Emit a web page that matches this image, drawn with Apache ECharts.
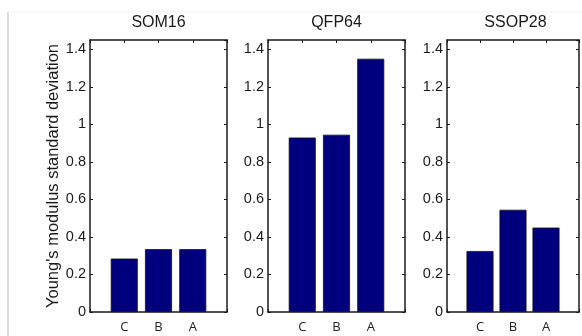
<!DOCTYPE html>
<html>
<head>
<meta charset="utf-8">
<script src="https://cdn.jsdelivr.net/npm/echarts@6/dist/echarts.min.js"></script>
<style>
  html, body { margin: 0; padding: 0; background: #fff; }
  #chart { width: 582px; height: 336px; }
</style>
</head>
<body>
<div id="chart"></div>
<script>
// Package types, one panel each
const panelTitles = ['SOM16', 'QFP64', 'SSOP28'];
// Bar categories, left to right (placed at x = 1, 2, 3)
const categories = ['C', 'B', 'A'];
// Young's modulus standard deviation per category
const som16 = [0.285, 0.335, 0.335];
const qfp64 = [0.93, 0.945, 1.35];
const ssop28 = [0.325, 0.545, 0.45];
const panelValues = [som16, qfp64, ssop28];

const yAxisName = "Young's modulus standard deviation";
const yMax = 1.45;
const yStep = 0.2;

const panelLeft = [90, 268, 447];
const panelWidth = 137;
const panelTop = 40;
const panelHeight = 272;

const ink = '#1a1a1a';
const font = 'Liberation Sans, Arial, sans-serif';

const grids = [], xAxes = [], yAxes = [], series = [], titles = [];

panelValues.forEach((vals, i) => {
  grids.push({ left: panelLeft[i], top: panelTop, width: panelWidth, height: panelHeight });

  // bottom axis with category labels
  xAxes.push({
    type: 'value', gridIndex: i, position: 'bottom', min: 0, max: categories.length + 1, interval: 1,
    axisLine: { show: true, onZero: false, lineStyle: { color: ink, width: 1.5 } },
    axisTick: { show: true, inside: true, length: 3, lineStyle: { color: ink } },
    axisLabel: {
      show: true, margin: 9, fontSize: 13, color: '#222', fontFamily: 'Open Sans, sans-serif',
      formatter: v => categories[v - 1] || ''
    },
    splitLine: { show: false }
  });
  // top box edge
  xAxes.push({
    type: 'value', gridIndex: i, position: 'top', min: 0, max: categories.length + 1, interval: 1,
    axisLine: { show: true, onZero: false, lineStyle: { color: ink, width: 1.5 } },
    axisTick: { show: true, inside: true, length: 3, lineStyle: { color: ink } },
    axisLabel: { show: false },
    splitLine: { show: false }
  });
  // left value axis
  yAxes.push({
    type: 'value', gridIndex: i, position: 'left', min: 0, max: yMax, interval: yStep,
    name: i === 0 ? yAxisName : '',
    nameLocation: 'middle', nameGap: 26, nameRotate: 90,
    nameTextStyle: { fontSize: 16.5, color: ink, fontFamily: font },
    axisLine: { show: true, onZero: false, lineStyle: { color: ink, width: 1.5 } },
    axisTick: { show: true, inside: true, length: 3, lineStyle: { color: ink } },
    axisLabel: {
      show: true, margin: 4, fontSize: 14.5, color: '#1a1a1a', fontFamily: font,
      showMaxLabel: false,
      formatter: v => String(Math.round(v * 10) / 10)
    },
    splitLine: { show: false }
  });
  // right box edge
  yAxes.push({
    type: 'value', gridIndex: i, position: 'right', min: 0, max: yMax, interval: yStep,
    axisLine: { show: true, onZero: false, lineStyle: { color: ink, width: 1.5 } },
    axisTick: { show: true, inside: true, length: 3, lineStyle: { color: ink } },
    axisLabel: { show: false },
    splitLine: { show: false }
  });

  series.push({
    type: 'bar',
    xAxisIndex: i * 2, yAxisIndex: i * 2,
    barWidth: 27,
    data: vals.map((v, k) => [k + 1, v]),
    itemStyle: { color: '#00007f', borderColor: '#111', borderWidth: 0.8 },
    silent: true
  });

  titles.push({
    text: panelTitles[i],
    left: panelLeft[i] + panelWidth / 2, top: 15, textAlign: 'center', padding: 0,
    textStyle: { fontSize: 16, fontWeight: 'normal', color: ink, fontFamily: font }
  });
});

const chart = echarts.init(document.getElementById('chart'), null, { renderer: 'canvas' });
chart.setOption({
  animation: false,
  backgroundColor: '#fff',
  title: titles,
  grid: grids,
  xAxis: xAxes,
  yAxis: yAxes,
  series: series,
  graphic: [
    // page frame on the left and top
    { type: 'line', shape: { x1: 8, y1: 12, x2: 8, y2: 336 }, style: { stroke: '#dcdcdc', lineWidth: 2 }, silent: true },
    { type: 'line', shape: { x1: 8, y1: 12, x2: 582, y2: 12 }, style: { stroke: '#f3f3f3', lineWidth: 1 }, silent: true }
  ]
});
</script>
</body>
</html>
